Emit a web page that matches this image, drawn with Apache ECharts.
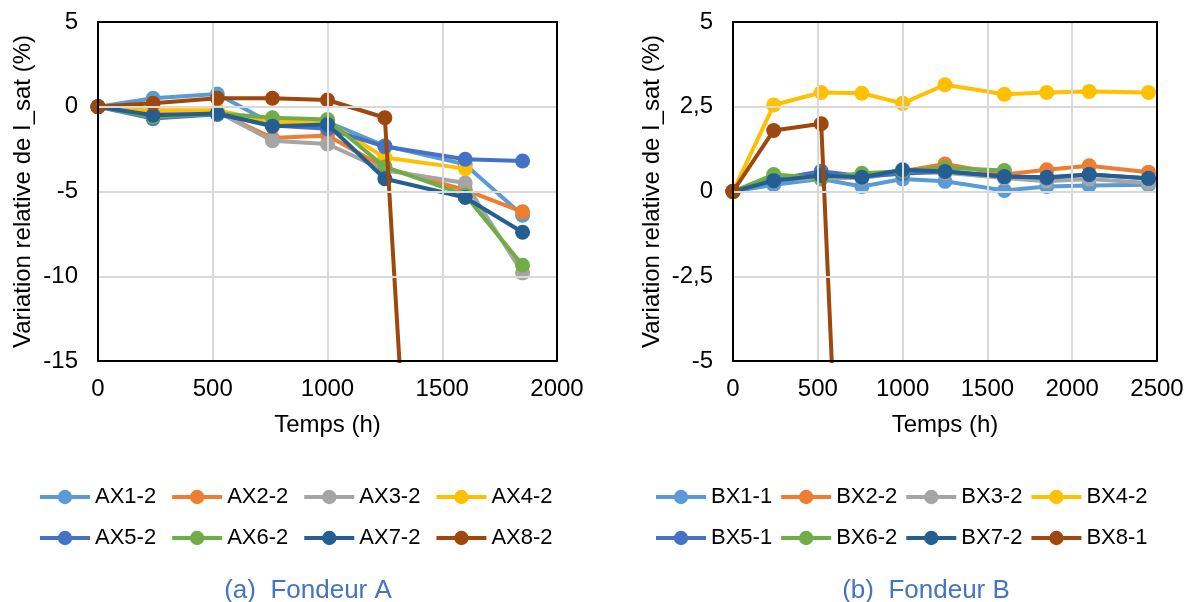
<!DOCTYPE html>
<html><head><meta charset="utf-8">
<script src="https://cdn.jsdelivr.net/npm/echarts@6/dist/echarts.min.js"></script>
<style>html,body{margin:0;padding:0;background:#fff}#c{width:1192px;height:602px}</style>
</head><body><div id="c"></div>
<script>
// ---- data ----
const times = [0, 240, 520, 760, 1000, 1250, 1600, 1850, 2100, 2450];
const namesA = ['AX1-2','AX2-2','AX3-2','AX4-2','AX5-2','AX6-2','AX7-2','AX8-2'];
const AX1 = [0, 0.5, 0.75, -1.0, -0.9, -2.3, -3.4, -6.4];
const AX2 = [0, -0.4, -0.3, -1.85, -1.7, -3.6, -4.9, -6.2];
const AX3 = [0, -0.5, -0.3, -2.0, -2.2, -3.75, -4.5, -9.8];
const AX4 = [0, -0.2, -0.2, -0.9, -0.9, -3.0, -3.65];
const AX5 = [0, -0.7, -0.45, -1.1, -1.3, -2.35, -3.1, -3.2];
const AX6 = [0, -0.6, -0.4, -0.65, -0.75, -3.55, -5.2, -9.35];
const AX7 = [0, -0.5, -0.4, -1.15, -1.05, -4.25, -5.35, -7.4];
const AX8 = [0, 0.2, 0.5, 0.5, 0.4, -0.65, -80];
const namesB = ['BX1-1','BX2-2','BX3-2','BX4-2','BX5-1','BX6-2','BX7-2','BX8-1'];
const BX1 = [0, 0.2, 0.37, 0.15, 0.37, 0.3, 0.03, 0.15, 0.18, 0.2];
const BX2 = [0, 0.4, 0.5, 0.45, 0.6, 0.81, 0.5, 0.64, 0.76, 0.57];
const BX3 = [0, 0.35, 0.4, 0.4, 0.55, 0.55, 0.4, 0.3, 0.37, 0.25];
const BX4 = [0, 2.55, 2.92, 2.9, 2.6, 3.15, 2.87, 2.92, 2.95, 2.92];
const BX5 = [0, 0.35, 0.6, 0.45, 0.52, 0.6, 0.45, 0.4, 0.5, 0.38];
const BX6 = [0, 0.5, 0.4, 0.54, 0.6, 0.7, 0.62];
const BX7 = [0, 0.32, 0.47, 0.42, 0.64, 0.59, 0.44, 0.42, 0.5, 0.39];
const BX8 = [0, 1.8, 2.0, -25];
const yTicksA = [-15, -10, -5, 0, 5];
const yTicksB = [-5, -2.5, 0, 2.5, 5];
const xTicksA = [0, 500, 1000, 1500, 2000];
const xTicksB = [0, 500, 1000, 1500, 2000, 2500];
const captionA = '(a)  Fondeur A';
const captionB = '(b)  Fondeur B';
const yTitle = 'Variation relative de I_sat (%)';
const xTitle = 'Temps (h)';
const colors = ['#5B9BD5','#ED7D31','#A5A5A5','#FFC000','#4472C4','#70AD47','#255E91','#9E480E'];

// ---- build ----
const FONT = 'Liberation Sans, Arial, sans-serif';
const pairs = v => v.map((y, i) => [times[i], y]);
const seriesA = [AX1,AX2,AX3,AX4,AX5,AX6,AX7,AX8];
const seriesB = [BX1,BX2,BX3,BX4,BX5,BX6,BX7,BX8];
function mk(name, vals, idx, axisIdx) {
  return {
    name, type: 'line', xAxisIndex: axisIdx, yAxisIndex: axisIdx,
    data: pairs(vals), symbol: 'circle', symbolSize: 15, showSymbol: true,
    color: colors[idx], lineStyle: {width: 4, color: colors[idx]},
    itemStyle: {color: colors[idx]}, clip: true, animation: false, z: 2 + idx
  };
}
const series = [];
seriesA.forEach((v, i) => series.push(mk(namesA[i], v, i, 0)));
seriesB.forEach((v, i) => series.push(mk(namesB[i], v, i, 1)));

const border = {show: true, onZero: false, lineStyle: {color: '#000', width: 2}};
const grey = {show: true, showMinLine: false, showMaxLine: false, lineStyle: {color: '#D9D9D9', width: 2}};
function xAx(gi, ticks) {
  return {
    type: 'value', gridIndex: gi, position: 'bottom', min: ticks[0], max: ticks[ticks.length-1], interval: 500,
    name: xTitle, nameLocation: 'middle', nameGap: 52,
    nameTextStyle: {fontFamily: FONT, fontSize: 24, color: '#000'},
    axisLine: border, axisTick: {show: false},
    axisLabel: {fontFamily: FONT, fontSize: 24, color: '#000', margin: 16, formatter: v => String(v)},
    splitLine: grey, z: 10
  };
}
function xTop(gi, ticks) {
  return {
    type: 'value', gridIndex: gi, position: 'top', min: ticks[0], max: ticks[ticks.length-1], interval: 500,
    axisLine: border, axisTick: {show: false}, axisLabel: {show: false}, splitLine: {show: false}, z: 10
  };
}
function yAx(gi, ticks, gap, fmt) {
  return {
    type: 'value', gridIndex: gi, position: 'left', min: ticks[0], max: ticks[ticks.length-1], interval: ticks[1]-ticks[0],
    name: yTitle, nameLocation: 'middle', nameGap: gap, nameRotate: 90,
    nameTextStyle: {fontFamily: FONT, fontSize: 24, color: '#000'},
    axisLine: border, axisTick: {show: false},
    axisLabel: {fontFamily: FONT, fontSize: 24, color: '#000', margin: 20, formatter: fmt},
    splitLine: grey, z: 10
  };
}
function yRight(gi, ticks) {
  return {
    type: 'value', gridIndex: gi, position: 'right', min: ticks[0], max: ticks[ticks.length-1], interval: ticks[1]-ticks[0],
    axisLine: border, axisTick: {show: false}, axisLabel: {show: false}, splitLine: {show: false}, z: 10
  };
}
function leg(data, left, top, gap) {
  return {
    data, left, top, itemGap: gap,
    orient: 'horizontal', itemWidth: 50, itemHeight: 18,
    lineStyle: {width: 4},
    textStyle: {fontFamily: FONT, fontSize: 22, color: '#000'}
  };
}
const chart = echarts.init(document.getElementById('c'), null, {renderer: 'canvas'});
chart.setOption({
  animation: false,
  backgroundColor: '#fff',
  title: [
    {text: captionA, left: 303, top: 573, textAlign: 'center', textStyle: {fontFamily: FONT, fontSize: 26, fontWeight: 'normal', color: '#4472C4'}},
    {text: captionB, left: 921, top: 573, textAlign: 'center', textStyle: {fontFamily: FONT, fontSize: 26, fontWeight: 'normal', color: '#4472C4'}}
  ],
  legend: [
    leg(namesA.slice(0, 4), 33, 481, 14),
    leg(namesA.slice(4), 33, 522, 14),
    leg(namesB.slice(0, 4), 649, 481, 7),
    leg(namesB.slice(4), 649, 522, 7)
  ],
  grid: [
    {left: 98, top: 22, width: 459, height: 339},
    {left: 733, top: 22, width: 424, height: 339}
  ],
  xAxis: [xAx(0, xTicksA), xAx(1, xTicksB), xTop(0, xTicksA), xTop(1, xTicksB)],
  yAxis: [yAx(0, yTicksA, 63, v => String(v)), yAx(1, yTicksB, 69, v => String(v).replace('.', ',')), yRight(0, yTicksA), yRight(1, yTicksB)],
  series
});
</script></body></html>
